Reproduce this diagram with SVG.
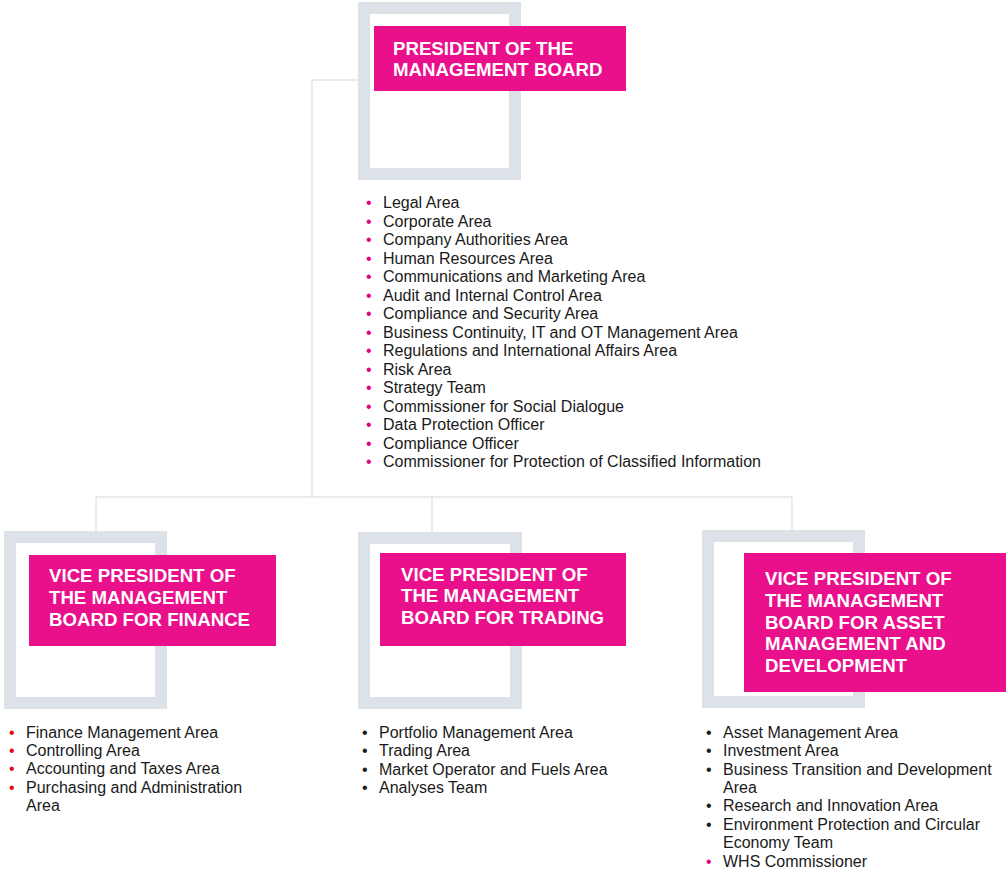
<svg xmlns="http://www.w3.org/2000/svg" width="1006" height="875" viewBox="0 0 1006 875">
  <style>
    .frame { fill: none; stroke: #dde1e8; stroke-width: 12; }
    .head { fill: #ea108c; }
    .htxt { font-family: "Liberation Sans", Arial, sans-serif; font-weight: bold; font-size: 18.67px; fill: #ffffff; }
    .conn { fill: none; stroke: #e1e4ea; stroke-width: 1.5; }
    .item { font-family: "Liberation Sans", Arial, sans-serif; font-size: 16px; fill: #1a1a1a; }
    .bp { fill: #e6007e; }
    .br { fill: #e30613; }
    .bk { fill: #1a1a1a; }
  </style>
  <rect width="1006" height="875" fill="#ffffff"/>

  <!-- connectors -->
  <g id="connectors">
    <polyline class="conn" points="358,80 312,80 312,497"/>
    <line class="conn" x1="96" y1="497" x2="792" y2="497"/>
    <line class="conn" x1="96" y1="497" x2="96" y2="531"/>
    <line class="conn" x1="432" y1="497" x2="432" y2="532"/>
    <line class="conn" x1="792" y1="497" x2="792" y2="530"/>
  </g>

  <!-- president -->
  <g id="president">
    <rect class="frame" x="364" y="8" width="151" height="166"/>
    <rect class="head" x="374" y="26" width="252" height="65"/>
    <text class="htxt" x="393" y="55">PRESIDENT OF THE</text>
    <text class="htxt" x="393" y="76">MANAGEMENT BOARD</text>
  </g>

  <g id="president-units" class="item">
    <text x="366" y="208"><tspan class="bp">•</tspan><tspan x="383">Legal Area</tspan></text>
    <text x="366" y="226.5"><tspan class="bp">•</tspan><tspan x="383">Corporate Area</tspan></text>
    <text x="366" y="245"><tspan class="bp">•</tspan><tspan x="383">Company Authorities Area</tspan></text>
    <text x="366" y="263.5"><tspan class="bp">•</tspan><tspan x="383">Human Resources Area</tspan></text>
    <text x="366" y="282"><tspan class="bp">•</tspan><tspan x="383">Communications and Marketing Area</tspan></text>
    <text x="366" y="300.5"><tspan class="bp">•</tspan><tspan x="383">Audit and Internal Control Area</tspan></text>
    <text x="366" y="319"><tspan class="bp">•</tspan><tspan x="383">Compliance and Security Area</tspan></text>
    <text x="366" y="337.5"><tspan class="bp">•</tspan><tspan x="383">Business Continuity, IT and OT Management Area</tspan></text>
    <text x="366" y="356"><tspan class="bp">•</tspan><tspan x="383">Regulations and International Affairs Area</tspan></text>
    <text x="366" y="374.5"><tspan class="bp">•</tspan><tspan x="383">Risk Area</tspan></text>
    <text x="366" y="393"><tspan class="bp">•</tspan><tspan x="383">Strategy Team</tspan></text>
    <text x="366" y="411.5"><tspan class="bp">•</tspan><tspan x="383">Commissioner for Social Dialogue</tspan></text>
    <text x="366" y="430"><tspan class="bp">•</tspan><tspan x="383">Data Protection Officer</tspan></text>
    <text x="366" y="448.5"><tspan class="bp">•</tspan><tspan x="383">Compliance Officer</tspan></text>
    <text x="366" y="467"><tspan class="bp">•</tspan><tspan x="383">Commissioner for Protection of Classified Information</tspan></text>
  </g>

  <!-- vice president for finance -->
  <g id="vp-finance">
    <rect class="frame" x="10" y="537" width="151" height="166"/>
    <rect class="head" x="29" y="555" width="247" height="91"/>
    <text class="htxt" x="49" y="582">VICE PRESIDENT OF</text>
    <text class="htxt" x="49" y="604">THE MANAGEMENT</text>
    <text class="htxt" x="49" y="626">BOARD FOR FINANCE</text>
  </g>

  <g id="finance-units" class="item">
    <text x="9" y="738"><tspan class="br">•</tspan><tspan x="26">Finance Management Area</tspan></text>
    <text x="9" y="756"><tspan class="br">•</tspan><tspan x="26">Controlling Area</tspan></text>
    <text x="9" y="774"><tspan class="br">•</tspan><tspan x="26">Accounting and Taxes Area</tspan></text>
    <text x="9" y="793"><tspan class="br">•</tspan><tspan x="26">Purchasing and Administration</tspan></text>
    <text x="26" y="811">Area</text>
  </g>

  <!-- vice president for trading -->
  <g id="vp-trading">
    <rect class="frame" x="364" y="538" width="152" height="165"/>
    <rect class="head" x="380" y="553" width="246" height="93"/>
    <text class="htxt" x="401" y="581">VICE PRESIDENT OF</text>
    <text class="htxt" x="401" y="602">THE MANAGEMENT</text>
    <text class="htxt" x="401" y="624">BOARD FOR TRADING</text>
  </g>

  <g id="trading-units" class="item">
    <text x="362" y="738"><tspan class="bk">•</tspan><tspan x="379">Portfolio Management Area</tspan></text>
    <text x="362" y="756"><tspan class="bk">•</tspan><tspan x="379">Trading Area</tspan></text>
    <text x="362" y="775"><tspan class="bk">•</tspan><tspan x="379">Market Operator and Fuels Area</tspan></text>
    <text x="362" y="793"><tspan class="bk">•</tspan><tspan x="379">Analyses Team</tspan></text>
  </g>

  <!-- vice president for asset management and development -->
  <g id="vp-asset">
    <rect class="frame" x="708" y="536" width="151" height="166"/>
    <rect class="head" x="744" y="553" width="262" height="139"/>
    <text class="htxt" x="765" y="585">VICE PRESIDENT OF</text>
    <text class="htxt" x="765" y="607">THE MANAGEMENT</text>
    <text class="htxt" x="765" y="629">BOARD FOR ASSET</text>
    <text class="htxt" x="765" y="650">MANAGEMENT AND</text>
    <text class="htxt" x="765" y="672">DEVELOPMENT</text>
  </g>

  <g id="asset-units" class="item">
    <text x="706" y="738"><tspan class="bk">•</tspan><tspan x="723">Asset Management Area</tspan></text>
    <text x="706" y="756"><tspan class="bk">•</tspan><tspan x="723">Investment Area</tspan></text>
    <text x="706" y="775"><tspan class="bk">•</tspan><tspan x="723">Business Transition and Development</tspan></text>
    <text x="723" y="793">Area</text>
    <text x="706" y="811"><tspan class="bk">•</tspan><tspan x="723">Research and Innovation Area</tspan></text>
    <text x="706" y="830"><tspan class="bk">•</tspan><tspan x="723">Environment Protection and Circular</tspan></text>
    <text x="723" y="848">Economy Team</text>
    <text x="706" y="867"><tspan class="bp">•</tspan><tspan x="723">WHS Commissioner</tspan></text>
  </g>
</svg>
